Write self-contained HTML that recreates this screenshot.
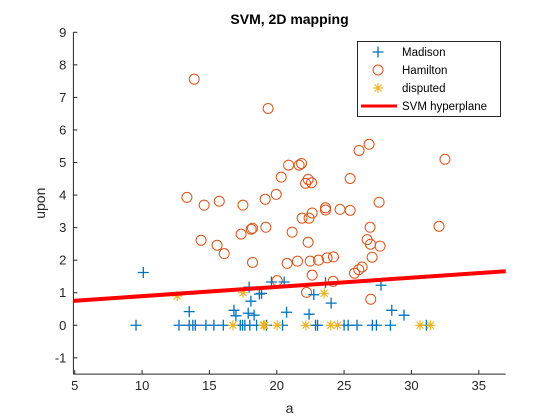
<!DOCTYPE html>
<html><head><meta charset="utf-8">
<style>
body{margin:0;background:#fff;}
svg{display:block;font-family:"Liberation Sans",Arial,sans-serif;}
</style></head>
<body>
<svg id="chart" width="560" height="420" viewBox="0 0 560 420" xmlns="http://www.w3.org/2000/svg"></svg>
<script>
const xTicks=[5,10,15,20,25,30,35];
const yTicks=[-1,0,1,2,3,4,5,6,7,8,9];
const madisonA=[10.09,9.55,12.74,13.5,13.5,13.77,13.95,14.74,15.33,16.03,16.82,16.97,17.29,17.46,17.63,17.95,17.88,18.08,18.32,18.0,18.5,18.71,18.87,19.24,19.6,20.43,20.55,20.73,22.4,22.75,22.88,23.03,23.62,24.04,25.0,25.3,25.96,27.1,27.4,27.74,28.54,28.44,29.45,31.11];
const madisonU=[1.62,0,0,0.42,0,0,0,0,0,0,0.46,0.29,0,0,0,1.17,0.37,0.74,0.31,0,0,0.96,0.98,0,1.33,0,1.33,0.40,0.34,0.94,0,0,1.31,0.68,0,0,0,0,0,1.23,0.46,0,0.31,0];
const hamiltonA=[13.87,19.36,13.33,14.61,15.73,17.49,19.14,19.96,20.33,20.88,21.66,21.84,22.33,22.14,22.58,26.86,26.11,32.49,25.45,27.6,23.62,23.62,24.7,25.45,22.63,21.88,22.4,18.2,19.19,26.93,32.05,21.14,22.33,26.71,26.96,27.67,18.2,20.77,21.54,22.48,23.1,23.74,24.21,27.08,25.77,26.09,26.34,22.63,20.03,24.19,22.21,26.98,14.38,15.57,16.1,17.35,18.1];
const hamiltonU=[7.56,6.66,3.93,3.69,3.81,3.69,3.87,4.02,4.55,4.92,4.92,4.97,4.48,4.36,4.38,5.56,5.37,5.10,4.51,3.78,3.61,3.54,3.56,3.53,3.45,3.29,3.29,2.98,3.01,3.01,3.04,2.86,2.55,2.63,2.49,2.43,1.93,1.90,1.97,1.97,2.0,2.07,2.10,2.09,1.6,1.71,1.79,1.54,1.37,1.35,1.01,0.80,2.61,2.46,2.2,2.8,2.95];
const disputedA=[12.61,17.49,16.74,19.02,19.1,20.03,22.16,23.52,24.01,24.51,30.64,31.41];
const disputedU=[0.9,1.0,0,0,0,0,0,0.98,0,0,0,0];
const lineA=[4.9,37];
const lineU=[0.75,1.66];

const svg=document.getElementById('chart');
const NS='http://www.w3.org/2000/svg';
const xMin=4.9,xMax=37,yMin=-1.5,yMax=9;
const L=73.4,R=505.7,T=32.3,B=374.1;
function sx(v){return L+(v-xMin)/(xMax-xMin)*(R-L);}
function sy(v){return B-(v-yMin)/(yMax-yMin)*(B-T);}
function mk(tag,attrs,parent){const e=document.createElementNS(NS,tag);for(const k in attrs)e.setAttribute(k,attrs[k]);(parent||svg).appendChild(e);return e;}

// axes
const ax=mk('g',{});


mk('line',{x1:L,y1:B,x2:R,y2:B,stroke:'#262626','stroke-width':1},ax);
mk('line',{x1:L,y1:T,x2:L,y2:B,stroke:'#262626','stroke-width':1},ax);
xTicks.forEach(t=>{
  const x=sx(t);
  mk('line',{x1:x,y1:B,x2:x,y2:B-4,stroke:'#262626'},ax);
  const tx=mk('text',{x:x,y:B+16,'text-anchor':'middle','font-size':13,fill:'#262626'},ax);
  tx.textContent=t;
  
  
});
yTicks.forEach(t=>{
  const y=sy(t);
  mk('line',{x1:L,y1:y,x2:L+4,y2:y,stroke:'#262626'},ax);
  const tx=mk('text',{x:L-7,y:y+4.5,'text-anchor':'end','font-size':13,fill:'#262626'},ax);
  tx.textContent=t;
  
  
});
const xt=mk('text',{x:(L+R)/2,y:413,'text-anchor':'middle','font-size':14,fill:'#262626'});
xt.textContent='a';


const yt=mk('text',{x:0,y:0,'text-anchor':'middle','font-size':14,fill:'#262626',transform:'translate(45,'+((T+B)/2)+') rotate(-90)'});
yt.textContent='upon';


const tt=mk('text',{x:(L+R)/2,y:24,'text-anchor':'middle','font-size':14,'font-weight':'bold',fill:'#000'});
tt.textContent='SVM, 2D mapping';



function plus(x,y,c,g){mk('path',{d:`M${x-5.5},${y}H${x+5.5}M${x},${y-5.5}V${y+5.5}`,stroke:c,'stroke-width':1.3,fill:'none'},g);}
function star(x,y,c,g){const r=5;mk('path',{d:`M${x-r},${y}H${x+r}M${x},${y-r}V${y+r}M${x-3.5},${y-3.5}L${x+3.5},${y+3.5}M${x-3.5},${y+3.5}L${x+3.5},${y-3.5}`,stroke:c,'stroke-width':1.1,fill:'none'},g);}
function circ(x,y,c,g){mk('circle',{cx:x,cy:y,r:5,stroke:c,'stroke-width':1,fill:'none'},g);}

const gH=mk('g',{});


hamiltonA.forEach((a,i)=>circ(sx(a),sy(hamiltonU[i]),'#D95319',gH));
const gM=mk('g',{});


madisonA.forEach((a,i)=>plus(sx(a),sy(madisonU[i]),'#0072BD',gM));
const gD=mk('g',{});


disputedA.forEach((a,i)=>star(sx(a),sy(disputedU[i]),'#EDB120',gD));
const ln=mk('line',{x1:sx(lineA[0]),y1:sy(lineU[0]),x2:sx(lineA[1]),y2:sy(lineU[1]),stroke:'#FF0000','stroke-width':4});



// legend
const lg=mk('g',{});


mk('rect',{x:357.5,y:41.5,width:143,height:75,fill:'#fff',stroke:'#262626','stroke-width':1},lg);
const ent=[['Madison','p'],['Hamilton','c'],['disputed','s'],['SVM hyperplane','l']];
ent.forEach((e,i)=>{
  const y=52+i*18;
  const g=mk('g',{},lg);
  
  
  if(e[1]=='p')plus(378,y,'#0072BD',g);
  else if(e[1]=='c')circ(378,y,'#D95319',g);
  else if(e[1]=='s')star(378,y,'#EDB120',g);
  else mk('line',{x1:361,y1:y,x2:397,y2:y,stroke:'#FF0000','stroke-width':3},g);
  const t=mk('text',{x:402,y:y+4,'font-size':11.5,fill:'#000'},g);
  t.textContent=e[0];
});
</script>
</body></html>
